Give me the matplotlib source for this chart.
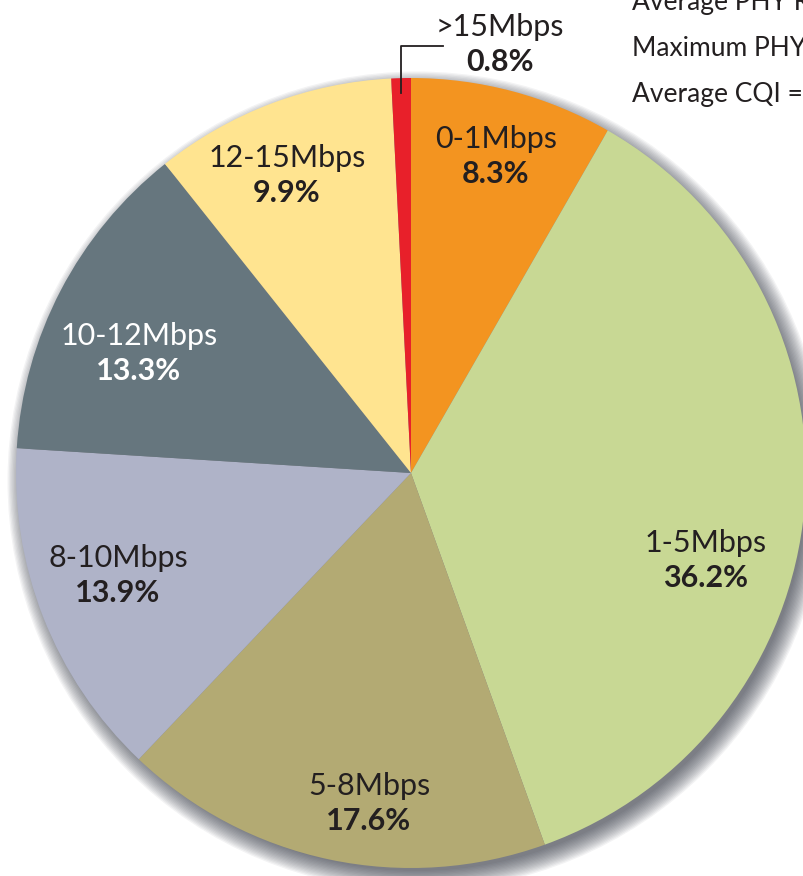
import matplotlib.pyplot as plt
from matplotlib.patches import Circle

# slices, clockwise from the top
labels = ["0-1Mbps", "1-5Mbps", "5-8Mbps", "8-10Mbps", "10-12Mbps", "12-15Mbps", ">15Mbps"]
shares = [8.3, 36.2, 17.6, 13.9, 13.3, 9.9, 0.8]
colors = ["#F39420", "#C8D894", "#B3AA73", "#AFB3C8", "#66767E", "#FFE490", "#E8202A"]
text_colors = ["#231F20", "#231F20", "#231F20", "#231F20", "white", "#231F20", "#231F20"]

# label centres in pixel coords (x, y from top)
label_pos = [(496, 156), (706, 560), (369, 803), (118, 575), (139, 353), (287, 175), (500, 44)]

stats_lines = ["Average PHY Rate =", "Maximum PHY Rate =", "Average CQI ="]

W, H = 804, 876
cx, cy, R = 411, 473, 395

fig = plt.figure(figsize=(W / 100, H / 100), dpi=100)
ax = fig.add_axes([0, 0, 1, 1])

# soft drop shadow
for k in range(16):
    ax.add_patch(Circle((cx + 6, H - cy - 8), R - 5 + k * 1.3,
                        facecolor="#333844", edgecolor="none", alpha=0.06, zorder=1))

wedges, _ = ax.pie(shares, colors=colors, startangle=90, counterclock=False,
                   center=(cx, H - cy), radius=R, frame=True,
                   wedgeprops=dict(edgecolor="none", zorder=2))
ax.set_xlim(0, W)
ax.set_ylim(0, H)
ax.set_aspect("equal")
ax.axis("off")

font = "Lato"
for lab, val, (x, y), tc in zip(labels, shares, label_pos, text_colors):
    ax.text(x, H - y + 17, lab, ha="center", va="center", fontsize=22,
            family=font, color=tc, zorder=5)
    ax.text(x, H - y - 18, f"{val}%", ha="center", va="center", fontsize=22,
            family=font, fontweight="bold", color=tc, zorder=5)

# leader for the tiny slice
ax.plot([401, 401, 443], [H - 93, H - 46, H - 46], color="#231F20", lw=1.3, zorder=5)

# side panel text, cut by the right edge as in the source
for i, s in enumerate(stats_lines):
    ax.text(632, H - (2 + i * 46), s, ha="left", va="center", fontsize=19,
            family=font, color="#231F20", zorder=5)

fig.savefig("out.png", dpi=100)
